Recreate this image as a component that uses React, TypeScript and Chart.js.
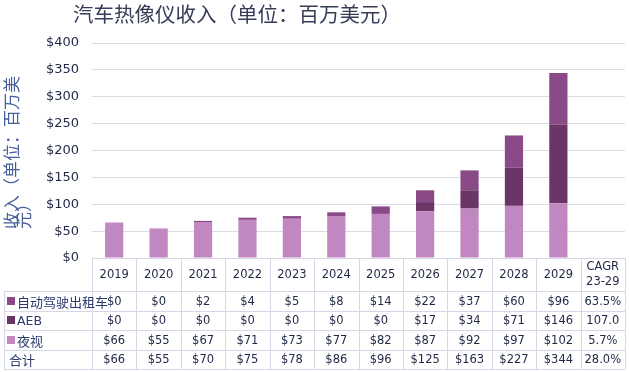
import React, { useEffect, useRef } from 'react';
import { Chart, registerables } from 'chart.js';

Chart.register(...registerables);

const years = ['2019', '2020', '2021', '2022', '2023', '2024', '2025', '2026', '2027', '2028', '2029'];
const categories = [...years, 'CAGR'];
const nightVision = [66, 55, 67, 71, 73, 77, 82, 87, 92, 97, 102];
const aeb = [0, 0, 0, 0, 0, 0, 0, 17, 34, 71, 146];
const robotaxi = [0, 0, 2, 4, 5, 8, 14, 22, 37, 60, 96];
const totals = [66, 55, 70, 75, 78, 86, 96, 125, 163, 227, 344];
const cagrLabel = ['CAGR', '23-29'];
const cagrValues = ['63.5%', '107.0', '5.7%', '28.0%'];
const seriesNames = ['自动驾驶出租车', 'AEB', '夜视', '合计'];
const yMin = 0;
const yMax = 400;
const yStep = 50;

const titleText = '汽车热像仪收入（单位：百万美元）';
const yTitleLines = ['收入（单位：百万美', '元）'];

const COLORS = {
  night: '#c087c0',
  aeb: '#6b3567',
  robo: '#894a87',
  grid: '#dcdce8',
  table: '#d6d6e6',
  text: '#1f2744',
  label: '#2d3a6e',
  title: '#363c56',
  yTitle: '#45609a',
};

const LATIN = '"DejaVu Sans", sans-serif';
const CJK = '"Noto Sans CJK SC", sans-serif';

const tablePlugin = {
  id: 'dataTable',
  afterDraw(chart: any) {
    const { ctx, chartArea } = chart;
    const xs = chart.scales.x;
    const colW = xs.getPixelForValue(1) - xs.getPixelForValue(0);
    const left = 4;
    const top = chartArea.bottom;
    const headerH = 33;
    const rowH = 19.5;
    const rowsY = [top + headerH];
    for (let i = 0; i < 4; i++) rowsY.push(rowsY[i] + rowH);
    const x0 = xs.getPixelForValue(0) - colW / 2;
    const x1 = xs.getPixelForValue(categories.length - 1) + colW / 2;

    ctx.save();
    ctx.strokeStyle = COLORS.table;
    ctx.lineWidth = 1;
    ctx.beginPath();
    ctx.moveTo(x0, Math.round(top) + 0.5);
    ctx.lineTo(x1, Math.round(top) + 0.5);
    rowsY.forEach((y) => {
      ctx.moveTo(left, Math.round(y) + 0.5);
      ctx.lineTo(x1, Math.round(y) + 0.5);
    });
    ctx.moveTo(left + 0.5, rowsY[0]);
    ctx.lineTo(left + 0.5, rowsY[4]);
    for (let i = 0; i <= categories.length; i++) {
      const x = Math.round(x0 + i * colW) + 0.5;
      ctx.moveTo(x, top);
      ctx.lineTo(x, rowsY[4]);
    }
    ctx.stroke();

    ctx.textAlign = 'center';
    ctx.textBaseline = 'middle';
    ctx.fillStyle = COLORS.text;
    ctx.font = `11.5px ${LATIN}`;
    const headMid = top + headerH / 2;
    years.forEach((yr, i) => {
      ctx.fillText(yr, xs.getPixelForValue(i), headMid + 0.5);
    });
    const cx = xs.getPixelForValue(categories.length - 1);
    ctx.fillText(cagrLabel[0], cx, headMid - 7);
    ctx.fillText(cagrLabel[1], cx, headMid + 8);

    const rows = [robotaxi, aeb, nightVision, totals];
    rows.forEach((row, r) => {
      const ym = rowsY[r] + rowH / 2 + 1;
      row.forEach((v, i) => {
        ctx.fillText('$' + v, xs.getPixelForValue(i), ym);
      });
      ctx.fillText(cagrValues[r], cx, ym);
    });

    const markerColors = [COLORS.robo, COLORS.aeb, COLORS.night, null];
    ctx.textAlign = 'left';
    seriesNames.forEach((name, r) => {
      const ym = rowsY[r] + rowH / 2;
      const mc = markerColors[r];
      let tx = 9;
      if (mc) {
        ctx.fillStyle = mc;
        ctx.fillRect(7, Math.round(ym) - 4, 8, 8);
        tx = 17;
      }
      ctx.fillStyle = COLORS.label;
      ctx.font = name === 'AEB' ? `12.5px ${LATIN}` : `13px ${CJK}`;
      ctx.fillText(name, tx, ym + 1);
    });

    // chart title
    ctx.fillStyle = COLORS.title;
    ctx.font = `20.5px ${CJK}`;
    ctx.textAlign = 'left';
    ctx.textBaseline = 'middle';
    ctx.fillText(titleText, 73, 14);

    // y axis title, rotated
    ctx.fillStyle = COLORS.yTitle;
    ctx.font = `17px ${CJK}`;
    ctx.textAlign = 'left';
    ctx.textBaseline = 'middle';
    const yBase = 229;
    const lineX = [12, 24];
    yTitleLines.forEach((ln, i) => {
      ctx.save();
      ctx.translate(lineX[i], yBase);
      ctx.rotate(-Math.PI / 2);
      ctx.fillText(ln, 0, 0);
      ctx.restore();
    });
    ctx.restore();
  },
};

export default function App() {
  const ref = useRef<HTMLCanvasElement>(null);
  useEffect(() => {
    document.body.style.margin = '0';
    const canvas = ref.current;
    if (!canvas) return;
    const chart = new Chart(canvas, {
      type: 'bar',
      data: {
        labels: categories,
        datasets: [
          { label: '夜视', data: nightVision, backgroundColor: COLORS.night, stack: 's' },
          { label: 'AEB', data: aeb, backgroundColor: COLORS.aeb, stack: 's' },
          { label: '自动驾驶出租车', data: robotaxi, backgroundColor: COLORS.robo, stack: 's' },
        ],
      },
      options: {
        responsive: false,
        animation: false,
        devicePixelRatio: 1,
        layout: { padding: { top: 43, bottom: 114, left: 0, right: 4 } },
        plugins: {
          legend: { display: false },
          title: { display: false },
          tooltip: { enabled: false },
        },
        datasets: {
          bar: { categoryPercentage: 0.82, barPercentage: 0.5 },
        },
        scales: {
          x: {
            stacked: true,
            display: false,
            grid: { display: false },
          },
          y: {
            stacked: true,
            min: yMin,
            max: yMax,
            border: { display: false },
            grid: { color: COLORS.grid, drawTicks: false, lineWidth: 1 },
            ticks: {
              stepSize: yStep,
              padding: 13,
              color: COLORS.text,
              font: { family: LATIN, size: 13 },
              callback: (v: any) => '$' + v,
            },
            afterFit: (scale: any) => {
              scale.width = 92;
            },
          },
        },
      },
      plugins: [tablePlugin],
    });
    return () => chart.destroy();
  }, []);
  return (
    <div style={{ width: 629, height: 372 }}>
      <canvas ref={ref} width={629} height={372} />
    </div>
  );
}
